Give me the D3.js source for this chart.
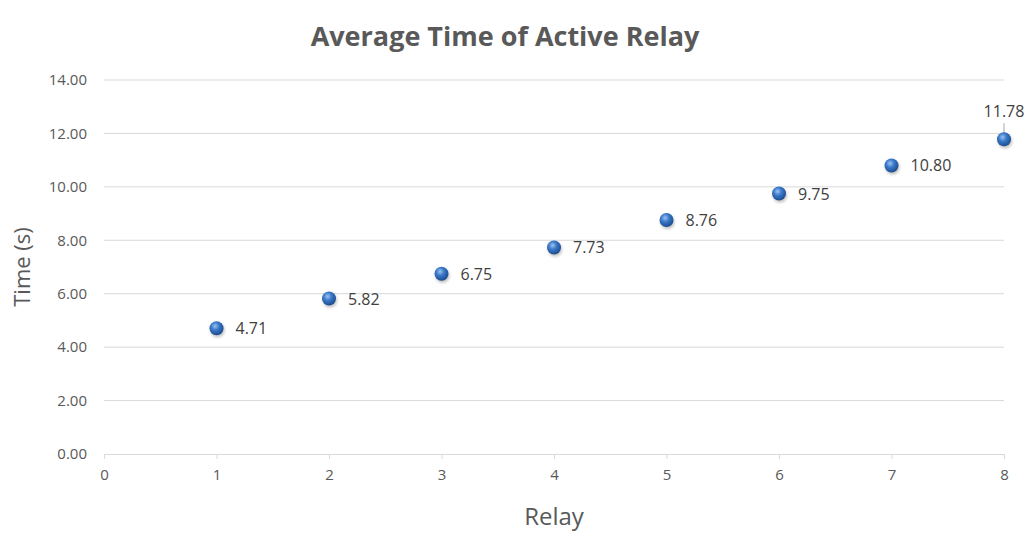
<!DOCTYPE html>
<html>
<head>
<meta charset="utf-8">
<script src="https://cdn.jsdelivr.net/npm/d3@7"></script>
<style>
  body { margin: 0; background: #fff; }
  svg, svg text { font-family: "Open Sans", "Noto Sans", sans-serif; }
</style>
</head>
<body>
<div class="chart"></div>
<script>
var relays = [1, 2, 3, 4, 5, 6, 7, 8];
var times = [4.71, 5.82, 6.75, 7.73, 8.76, 9.75, 10.80, 11.78];
var xTicks = [0, 1, 2, 3, 4, 5, 6, 7, 8];
var yTicks = [0, 2, 4, 6, 8, 10, 12, 14];

var width = 1030, height = 551;
var margin = {top: 80, right: 26, bottom: 97, left: 104};

var svg = d3.select(".chart")
    .append("svg")
    .attr("width", width)
    .attr("height", height);

var x = d3.scaleLinear()
    .domain([0, 8])
    .range([margin.left, width - margin.right]);

var y = d3.scaleLinear()
    .domain([0, 14])
    .range([height - margin.bottom, margin.top]);

// sphere marker gradient
var defs = svg.append("defs");
var grad = defs.append("radialGradient")
    .attr("id", "ball")
    .attr("cx", "40%").attr("cy", "35%").attr("r", "65%");
grad.append("stop").attr("offset", "0%").attr("stop-color", "#9cc3f0");
grad.append("stop").attr("offset", "45%").attr("stop-color", "#3a78c9");
grad.append("stop").attr("offset", "100%").attr("stop-color", "#1d4d8f");

var blur = defs.append("filter").attr("id", "shadow")
    .attr("x", "-50%").attr("y", "-50%").attr("width", "200%").attr("height", "200%");
blur.append("feGaussianBlur").attr("stdDeviation", 1.5);

// gridlines
svg.append("g")
    .selectAll("line")
    .data(yTicks.slice(1))
  .enter().append("line")
    .attr("x1", x(0))
    .attr("x2", x(8))
    .attr("y1", function(d) { return y(d); })
    .attr("y2", function(d) { return y(d); })
    .style("stroke", "#d9d9d9")
    .style("stroke-width", 1);

// x axis
var xAxis = d3.axisBottom(x)
    .tickValues(xTicks)
    .tickFormat(d3.format("d"))
    .tickSize(5)
    .tickPadding(10);

var gx = svg.append("g")
    .attr("transform", "translate(0," + y(0) + ")")
    .call(xAxis);
gx.select(".domain").style("stroke", "#d9d9d9");
gx.selectAll(".tick line").style("stroke", "#d9d9d9");
gx.selectAll("text")
    .style("fill", "#595959")
    .style("font-size", "15px");

// y axis labels
var yAxis = d3.axisLeft(y)
    .tickValues(yTicks)
    .tickFormat(d3.format(".2f"))
    .tickSize(0)
    .tickPadding(17);

var gy = svg.append("g")
    .attr("transform", "translate(" + x(0) + ",0)")
    .call(yAxis);
gy.select(".domain").remove();
gy.selectAll("text")
    .style("fill", "#595959")
    .style("font-size", "15px");

// title
svg.append("text")
    .attr("x", 505)
    .attr("y", 46)
    .attr("text-anchor", "middle")
    .style("font-size", "27px")
    .style("font-weight", "bold")
    .style("fill", "#595959")
    .text("Average Time of Active Relay");

// axis titles
svg.append("text")
    .attr("x", (x(0) + x(8)) / 2)
    .attr("y", 525)
    .attr("text-anchor", "middle")
    .style("font-size", "24px")
    .style("fill", "#595959")
    .text("Relay");

svg.append("text")
    .attr("transform", "translate(30," + ((y(0) + y(14)) / 2) + ") rotate(-90)")
    .attr("text-anchor", "middle")
    .style("font-size", "22px")
    .style("fill", "#595959")
    .text("Time (s)");

var pts = relays.map(function(r, i) { return {x: r, y: times[i]}; });

// leader line for last label
var last = pts[pts.length - 1];
svg.append("line")
    .attr("x1", x(last.x))
    .attr("x2", x(last.x))
    .attr("y1", y(last.y) - 4)
    .attr("y2", y(last.y) - 16)
    .style("stroke", "#a6a6a6")
    .style("stroke-width", 1);

// markers
var marks = svg.append("g");
marks.selectAll("circle.shadow")
    .data(pts)
  .enter().append("circle")
    .attr("class", "shadow")
    .attr("cx", function(d) { return x(d.x) + 1; })
    .attr("cy", function(d) { return y(d.y) + 2; })
    .attr("r", 7)
    .style("fill", "#000")
    .style("opacity", 0.25)
    .attr("filter", "url(#shadow)");

marks.selectAll("circle.pt")
    .data(pts)
  .enter().append("circle")
    .attr("class", "pt")
    .attr("cx", function(d) { return x(d.x); })
    .attr("cy", function(d) { return y(d.y); })
    .attr("r", 7)
    .style("fill", "url(#ball)");

// data labels
svg.append("g")
    .selectAll("text")
    .data(pts)
  .enter().append("text")
    .attr("x", function(d, i) { return i === pts.length - 1 ? x(d.x) : x(d.x) + 19; })
    .attr("y", function(d, i) { return i === pts.length - 1 ? y(d.y) - 22 : y(d.y) + 6; })
    .attr("text-anchor", function(d, i) { return i === pts.length - 1 ? "middle" : "start"; })
    .style("font-size", "16px")
    .style("fill", "#404040")
    .text(function(d) { return d3.format(".2f")(d.y); });
</script>
</body>
</html>
